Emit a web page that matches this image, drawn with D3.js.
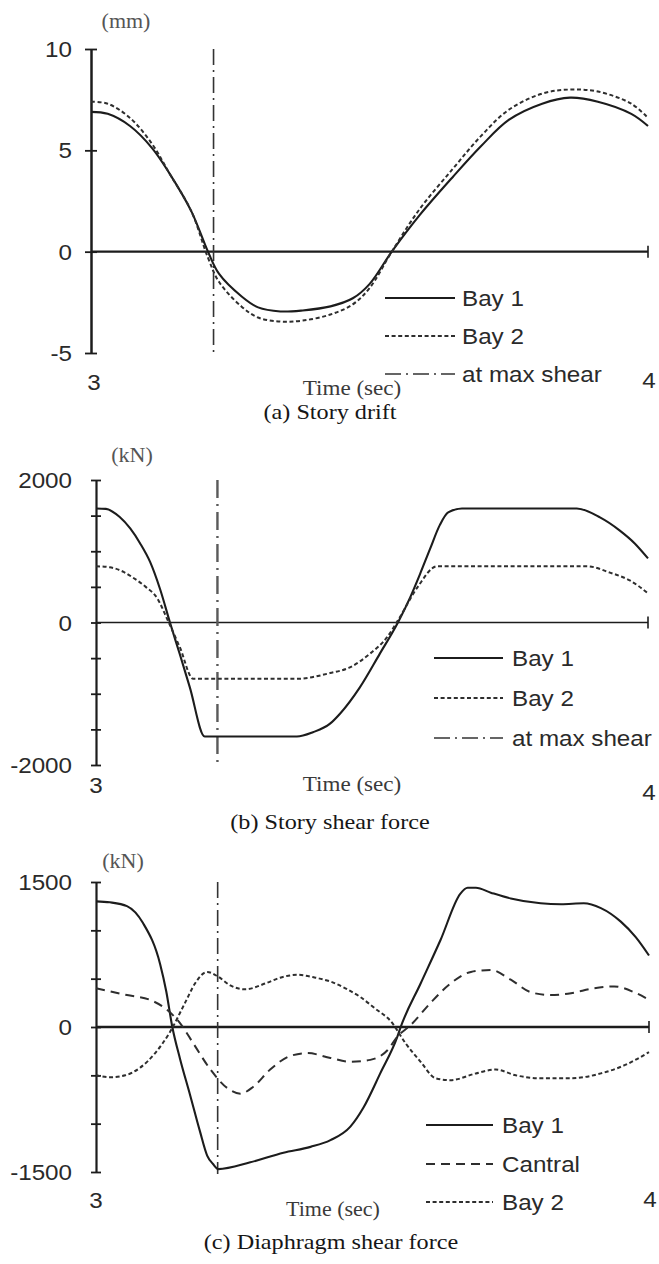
<!DOCTYPE html>
<html>
<head>
<meta charset="utf-8">
<script src="https://cdn.jsdelivr.net/npm/d3@7"></script>
<style>
  html, body { margin: 0; padding: 0; background: #fff; }
  svg { display: block; }
</style>
</head>
<body>
<svg id="chart" width="659" height="1264"></svg>
<script>
// ---------------- (a) Story drift (mm) ----------------
const driftTime = [3.00,3.03,3.07,3.11,3.14,3.18,3.21,3.23,3.27,3.30,3.34,3.38,3.43,3.47,3.50,3.54,3.59,3.65,3.70,3.75,3.81,3.86,3.91,3.97,4.00];
const driftBay1 = [6.9,6.8,6.2,5.1,3.9,2.0,0.0,-1.1,-2.2,-2.75,-2.95,-2.9,-2.7,-2.3,-1.6,0.0,1.8,3.7,5.2,6.5,7.3,7.6,7.4,6.8,6.2];
const driftBay2 = [7.4,7.3,6.6,5.3,3.9,2.0,-0.3,-1.5,-2.7,-3.25,-3.45,-3.4,-3.1,-2.6,-1.8,0.0,2.1,4.1,5.7,7.0,7.8,8.0,7.9,7.3,6.6];
const driftTicks = [-5, 0, 5, 10];
const driftTickLabels = ["-5", "0", "5", "10"];

// ---------------- (b) Story shear force (kN) ----------------
const shearTimeBay1 = [3.000,3.018,3.043,3.062,3.080,3.098,3.116,3.134,3.152,3.170,3.197,3.364,3.393,3.424,3.442,3.478,3.514,3.547,3.569,3.587,3.605,3.623,3.638,3.663,3.871,3.913,3.949,3.976,4.000];
const shearBay1     = [1600,1595,1480,1320,1110,850,470,0,-450,-910,-1600,-1600,-1540,-1420,-1280,-910,-440,0,350,680,1030,1370,1545,1600,1600,1475,1290,1110,900];
const shearTimeBay2 = [3.000,3.025,3.050,3.067,3.090,3.111,3.130,3.152,3.176,3.364,3.424,3.460,3.496,3.527,3.547,3.582,3.618,3.889,3.931,3.967,4.000];
const shearBay2     = [790,775,710,630,500,340,30,-350,-790,-790,-710,-630,-440,-210,30,490,790,790,700,590,410];
const shearTicks = [-2000,-1500,-1000,-500,0,500,1000,1500,2000];
const shearTickLabels = [[-2000,"-2000"],[0,"0"],[2000,"2000"]];

// ---------------- (c) Diaphragm shear force (kN) ----------------
const diaTimeBay1 = [3.000,3.025,3.056,3.085,3.116,3.127,3.138,3.152,3.170,3.188,3.201,3.212,3.221,3.279,3.339,3.388,3.424,3.460,3.484,3.514,3.545,3.551,3.587,3.623,3.659,3.672,3.687,3.714,3.750,3.804,3.841,3.882,3.913,3.949,3.976,4.000];
const diaBay1     = [1300,1290,1250,1075,650,370,0,-330,-700,-1080,-1330,-1420,-1470,-1400,-1300,-1240,-1170,-1030,-830,-480,-100,0,450,900,1380,1440,1440,1390,1330,1280,1270,1280,1230,1090,930,740];
const diaTimeCentral = [3.000,3.056,3.098,3.129,3.152,3.176,3.207,3.237,3.261,3.284,3.315,3.351,3.382,3.424,3.460,3.496,3.527,3.545,3.569,3.605,3.641,3.678,3.714,3.750,3.786,3.822,3.859,3.900,3.937,3.973,4.000];
const diaCentral     = [400,330,280,175,40,-170,-440,-630,-690,-620,-440,-300,-270,-320,-360,-340,-240,-100,20,250,450,570,590,490,360,330,350,400,420,360,280];
const diaTimeBay2 = [3.000,3.025,3.053,3.080,3.107,3.134,3.161,3.179,3.201,3.221,3.243,3.270,3.306,3.333,3.364,3.397,3.424,3.451,3.478,3.505,3.533,3.560,3.587,3.614,3.641,3.687,3.723,3.759,3.804,3.859,3.913,3.958,4.000];
const diaBay2     = [-500,-520,-500,-420,-270,-50,250,450,570,520,430,390,450,510,540,510,470,400,310,190,60,-170,-360,-530,-550,-480,-440,-500,-530,-530,-480,-390,-260];
const diaTicks = [-1500,-1000,-500,0,500,1000,1500];
const diaTickLabels = [[-1500,"-1500"],[0,"0"],[1500,"1500"]];

// time of the maximum story shear, marked in every panel
const maxShearTime = 3.22;
const timeTicks = [3, 4];

// ---------------- drawing ----------------
const svg = d3.select("#chart");
const SANS = "'Liberation Sans', Arial, Helvetica, sans-serif";
const SERIF = "'Liberation Serif', 'Times New Roman', serif";
const INK = "#1c1c1c";

const styles = {
  solid:   { dash: null,         width: 2.1, color: INK },
  short:   { dash: "4,2.6",      width: 2.0, color: "#2e2e2e" },
  long:    { dash: "9,6",        width: 2.0, color: "#2e2e2e" },
  dashdot: { dash: "16,5,2,5",   width: 1.6, color: "#333" }
};

function text(g, x, y, s, o = {}) {
  const sx = o.sx ?? 1.1;
  return g.append("text")
    .attr("transform", `translate(${x},${y}) scale(${sx},1)`)
    .attr("text-anchor", o.anchor || "start")
    .attr("font-family", o.family || SANS)
    .attr("font-size", o.size || 22)
    .attr("fill", o.fill || "#2a2a2a")
    .text(s);
}

function applyStyle(sel, st) {
  sel.attr("fill", "none")
    .attr("stroke", st.color)
    .attr("stroke-width", st.width)
    .attr("stroke-dasharray", st.dash);
}

function drawPanel(p) {
  const g = svg.append("g");
  const x = d3.scaleLinear().domain([3, 4]).range(p.xRange);
  const y = d3.scaleLinear().domain(p.yDomain).range(p.yRange);

  // vertical axis with ticks crossing the line
  const ax = g.append("g").attr("transform", `translate(${x(3)},0)`)
    .call(d3.axisLeft(y).tickValues(p.ticks).tickSizeInner(p.tickLen).tickSizeOuter(0).tickFormat(""));
  ax.select(".domain").attr("stroke", INK).attr("stroke-width", p.axisWidth);
  ax.selectAll(".tick line").attr("x1", p.tickLen).attr("stroke", INK).attr("stroke-width", 1.8);

  // value labels
  p.tickLabels.forEach(([v, s]) => text(g, 72, y(v) + 8, s, { anchor: "end", size: 22 }));

  // zero line with end tick
  g.append("line").attr("x1", x(3)).attr("x2", x(4)).attr("y1", y(0)).attr("y2", y(0))
    .attr("stroke", INK).attr("stroke-width", p.zeroWidth);
  g.append("line").attr("x1", x(4)).attr("x2", x(4)).attr("y1", y(0) - 6).attr("y2", y(0) + 6)
    .attr("stroke", INK).attr("stroke-width", 1.6);

  // time tick labels
  timeTicks.forEach((t, i) => text(g, x(t) + (i === 0 ? p.x3dx : 1), p.timeLabelY[i], String(t), { anchor: "middle", size: 22 }));

  // unit
  text(g, p.unit.x, p.unit.y, p.unit.text, { anchor: "middle", family: SERIF, size: 20, fill: "#555" });

  // time axis title and caption
  text(g, p.timeTitle.x, p.timeTitle.y, "Time (sec)", { anchor: "middle", family: SERIF, size: p.timeTitle.size, fill: "#3a3a3a" });
  text(g, p.caption.x, p.caption.y, p.caption.text, { anchor: "middle", family: SERIF, size: 22, fill: "#161616" });

  // time of maximum shear
  applyStyle(g.append("line")
    .attr("x1", x(maxShearTime)).attr("x2", x(maxShearTime))
    .attr("y1", y(p.yDomain[1])).attr("y2", y(p.yDomain[0]) + 2), p.markStyle || styles.dashdot);

  // response curves
  const line = d3.line().x(d => x(d[0])).y(d => y(d[1])).curve(p.curve || d3.curveMonotoneX);
  p.series.forEach(s => {
    const pts = s.t.map((t, i) => [t, s.v[i]]);
    applyStyle(g.append("path").attr("d", line(pts)), styles[s.style]);
  });

  // legend
  p.legend.items.forEach((it, i) => {
    const ly = p.legend.ys[i];
    applyStyle(g.append("line").attr("x1", p.legend.x1).attr("x2", p.legend.x2).attr("y1", ly).attr("y2", ly), styles[it.style]);
    text(g, p.legend.tx, ly + 8, it.label, { size: 22 });
  });
}

drawPanel({
  xRange: [91, 648], yDomain: [-5, 10], yRange: [353, 49],
  ticks: driftTicks, tickLen: 6, axisWidth: 2.5, zeroWidth: 2.3,
  tickLabels: driftTicks.map((v, i) => [v, driftTickLabels[i]]),
  timeLabelY: [390, 388], x3dx: 3,
  unit: { text: "(mm)", x: 126, y: 28 },
  timeTitle: { x: 352, y: 395, size: 21 },
  caption: { text: "(a) Story drift", x: 330, y: 419 },
  curve: d3.curveCatmullRom.alpha(0.5),
  series: [
    { t: driftTime, v: driftBay1, style: "solid" },
    { t: driftTime, v: driftBay2, style: "short" }
  ],
  legend: { x1: 385, x2: 455, tx: 462, ys: [298, 336, 374],
    items: [{ label: "Bay 1", style: "solid" }, { label: "Bay 2", style: "short" }, { label: "at max shear", style: "dashdot" }] }
});

drawPanel({
  xRange: [96, 648], yDomain: [-2000, 2000], yRange: [765, 480],
  ticks: shearTicks, tickLen: 5, axisWidth: 2.2, zeroWidth: 1.6,
  tickLabels: shearTickLabels,
  timeLabelY: [793, 800], x3dx: 0,
  unit: { text: "(kN)", x: 132, y: 462 },
  timeTitle: { x: 352, y: 791, size: 21 },
  caption: { text: "(b) Story shear force", x: 330, y: 829 },
  markStyle: { dash: "18,6,2,6", width: 2.4, color: "#5a5a5a" },
  series: [
    { t: shearTimeBay1, v: shearBay1, style: "solid" },
    { t: shearTimeBay2, v: shearBay2, style: "short" }
  ],
  legend: { x1: 434, x2: 503, tx: 512, ys: [658, 698, 738],
    items: [{ label: "Bay 1", style: "solid" }, { label: "Bay 2", style: "short" }, { label: "at max shear", style: "dashdot" }] }
});

drawPanel({
  xRange: [96, 649], yDomain: [-1500, 1500], yRange: [1172, 882],
  ticks: diaTicks, tickLen: 5, axisWidth: 2.2, zeroWidth: 2.4,
  tickLabels: diaTickLabels,
  timeLabelY: [1208, 1207], x3dx: 0,
  unit: { text: "(kN)", x: 123, y: 868 },
  timeTitle: { x: 333, y: 1216, size: 20 },
  caption: { text: "(c) Diaphragm shear force", x: 331, y: 1249 },
  series: [
    { t: diaTimeBay1, v: diaBay1, style: "solid" },
    { t: diaTimeCentral, v: diaCentral, style: "long" },
    { t: diaTimeBay2, v: diaBay2, style: "short" }
  ],
  legend: { x1: 426, x2: 493, tx: 502, ys: [1125, 1164, 1202],
    items: [{ label: "Bay 1", style: "solid" }, { label: "Cantral", style: "long" }, { label: "Bay 2", style: "short" }] }
});
</script>
</body>
</html>
